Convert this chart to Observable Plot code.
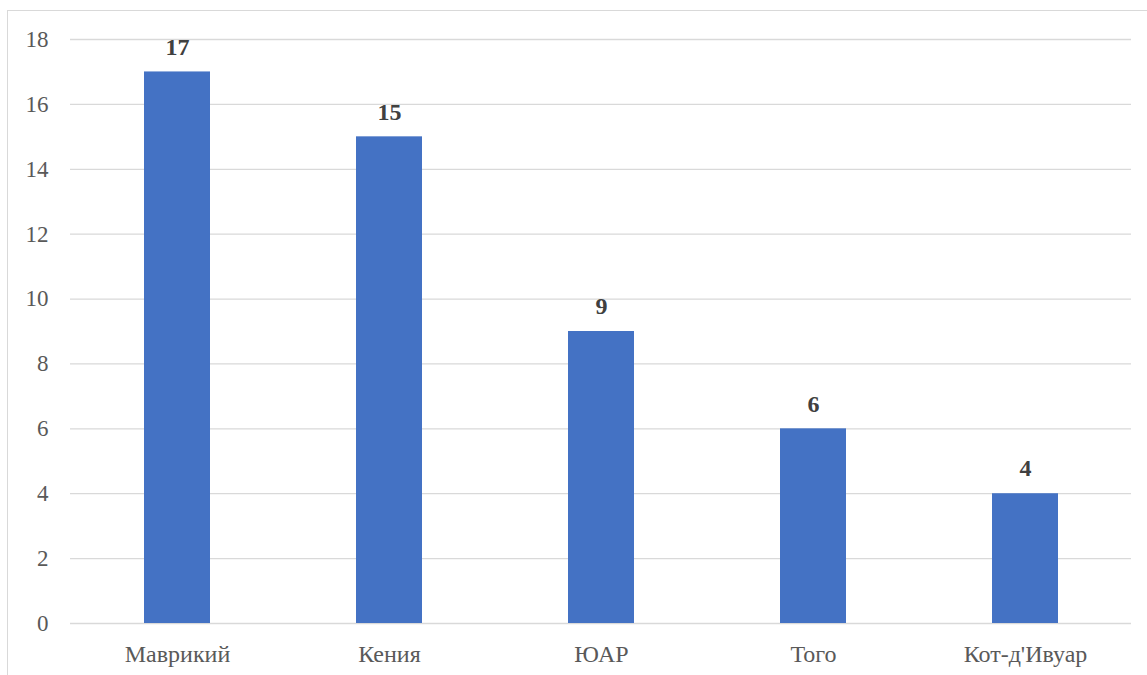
<!DOCTYPE html>
<html>
<head>
<meta charset="utf-8">
<script src="https://cdn.jsdelivr.net/npm/d3@7"></script>
<script src="https://cdn.jsdelivr.net/npm/@observablehq/plot@0.6"></script>
<style>
  html, body { margin: 0; padding: 0; background: #ffffff; }
  #wrap { position: relative; width: 1147px; height: 675px; overflow: hidden; }
  #frame { position: absolute; left: 7px; top: 10px; width: 1200px; height: 720px;
           border: 1px solid #d9d9d9; box-sizing: border-box; }
  #chart { position: absolute; left: 0; top: 0; }
</style>
</head>
<body>
<div id="wrap">
  <div id="frame"></div>
  <div id="chart"></div>
</div>
<script>
// Countries and their counts
const countries = ["Маврикий", "Кения", "ЮАР", "Того", "Кот-д'Ивуар"];
const counts = [17, 15, 9, 6, 4];
const yTicks = [0, 2, 4, 6, 8, 10, 12, 14, 16, 18];

const rows = countries.map((c, i) => ({country: c, value: counts[i]}));

const serif = "'Liberation Serif', 'Times New Roman', serif";

const chart = Plot.plot({
  width: 1147,
  height: 675,
  marginLeft: 70,
  marginRight: 16,
  marginTop: 39,
  marginBottom: 52,
  style: {background: "transparent", overflow: "visible"},
  x: {domain: countries, paddingInner: 0.689, paddingOuter: 0.3445, label: null},
  y: {domain: [0, 18], ticks: yTicks, label: null},
  marks: [
    Plot.gridY(yTicks, {stroke: "#d9d9d9", strokeOpacity: 1, strokeWidth: 1.3}),
    Plot.axisY(yTicks, {tickSize: 0, tickPadding: 22, fontSize: 23, fill: "#595959",
                        textAnchor: "end"}),
    Plot.axisX({tickSize: 0, tickPadding: 21, fontSize: 24, fill: "#595959"}),
    Plot.barY(rows, {x: "country", y: "value", fill: "#4472c4"}),
    Plot.text(rows, {x: "country", y: "value", text: d => String(d.value), dy: -25,
                     fontSize: 24, fontWeight: "bold", fill: "#404040"})
  ]
});

// Use the serif face on every label of the chart
chart.style.setProperty("font-family", serif, "important");
d3.select(chart).selectAll("g, text").each(function () {
  this.removeAttribute("font-family");
  this.style.setProperty("font-family", serif, "important");
});

document.getElementById("chart").appendChild(chart);
</script>
</body>
</html>
